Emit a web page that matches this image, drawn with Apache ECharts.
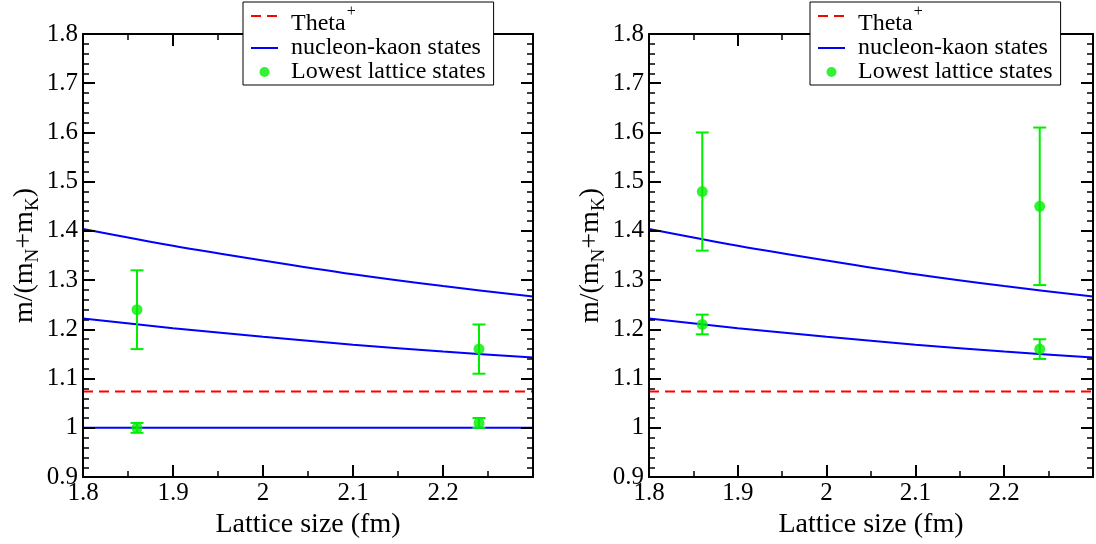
<!DOCTYPE html>
<html><head><meta charset="utf-8">
<script src="https://cdn.jsdelivr.net/npm/echarts@6/dist/echarts.min.js"></script>
<style>html,body{margin:0;padding:0;background:#fff}#c{width:1096px;height:544px}</style>
</head><body><div id="c"></div>
<script>
// ---- data ----
const nkX      = [1.8, 1.9, 2.0, 2.1, 2.2, 2.3];
const nkUpper  = [1.404, 1.370, 1.340, 1.312, 1.288, 1.267];
const nkLower  = [1.222, 1.2025, 1.185, 1.169, 1.155, 1.143];
const thrX     = [1.8, 2.3];
const nkThresh = [1.0, 1.0];
const thetaY   = [1.074, 1.074];
const latX     = [1.86, 2.24];
const leftLowY   = [1.0, 1.01];  const leftLowErr   = [0.01, 0.01];
const leftHighY  = [1.24, 1.16]; const leftHighErr  = [0.08, 0.05];
const rightLowY  = [1.21, 1.16]; const rightLowErr  = [0.02, 0.02];
const rightHighY = [1.48, 1.45]; const rightHighErr = [0.12, 0.16];
const xTitle = 'Lattice size (fm)';
const legendNames = ['Theta+', 'nucleon-kaon states', 'Lowest lattice states'];

const FONT = 'Liberation Serif';
const GREEN = '#00ee00', BLUE = '#0000ff', RED = '#ff0000';

function fmt(v){ return String(Math.round(v*10)/10); }
function xAx(grid, pos, labels){
  return {type:'value', gridIndex:grid, position:pos, min:1.8, max:2.3, interval:0.1, z:6,
    axisLine:{show:true, onZero:false, lineStyle:{color:'#000', width:2}},
    axisTick:{show:true, inside:true, length:12, lineStyle:{color:'#000', width:2}},
    minorTick:{show:true, splitNumber:2, length:6, lineStyle:{color:'#000', width:1.5}},
    splitLine:{show:false}, minorSplitLine:{show:false},
    axisLabel:{show:labels, margin:4, fontFamily:FONT, fontSize:25, color:'#000',
      formatter:v => v > 2.29 ? '' : fmt(v)},
    name: labels ? xTitle : '', nameLocation:'middle', nameGap:28,
    nameTextStyle:{fontFamily:FONT, fontSize:28, color:'#000'}};
}
function yAx(grid, pos, labels){
  return {type:'value', gridIndex:grid, position:pos, min:0.9, max:1.8, interval:0.1, z:6,
    axisLine:{show:true, onZero:false, lineStyle:{color:'#000', width:2}},
    axisTick:{show:true, inside:true, length:12, lineStyle:{color:'#000', width:2}},
    minorTick:{show:true, splitNumber:5, length:6, lineStyle:{color:'#000', width:1.5}},
    splitLine:{show:false}, minorSplitLine:{show:false},
    axisLabel:{show:labels, margin:5, fontFamily:FONT, fontSize:25, color:'#000', formatter:fmt},
    name: labels ? '{a|m/(m}{s|N}{a|+m}{s|K}{a|)}' : '', nameLocation:'middle', nameGap:43, nameRotate:90,
    nameTextStyle:{fontFamily:FONT, fontSize:28, color:'#000', rich:{
      a:{fontFamily:FONT, fontSize:28, lineHeight:28, verticalAlign:'top', color:'#000'},
      s:{fontFamily:FONT, fontSize:19, lineHeight:19, verticalAlign:'top', padding:[13,0,0,0], color:'#000'}}}};
}
function lineS(name, xi, xs, ys, color, dashed, smooth){
  return {type:'line', name, xAxisIndex:xi, yAxisIndex:xi, data:xs.map((x,i)=>[x, ys[i]]),
    symbol:'none', showSymbol:false, smooth: smooth ? 0.3 : false, z:2, silent:true,
    lineStyle:{color, width:2, type: dashed ? [10,6] : 'solid'}, itemStyle:{color}};
}
function errS(xi, ys, es){
  return {type:'custom', xAxisIndex:xi, yAxisIndex:xi, z:3, silent:true,
    data: latX.map((x,i)=>[x, ys[i]-es[i], ys[i]+es[i]]),
    encode:{x:0, y:[1,2]},
    renderItem:(p, api)=>{
      const lo = api.coord([api.value(0), api.value(1)]);
      const hi = api.coord([api.value(0), api.value(2)]);
      const hw = 6.5, st = {stroke:GREEN, lineWidth:2};
      return {type:'group', children:[
        {type:'line', shape:{x1:lo[0], y1:lo[1], x2:hi[0], y2:hi[1]}, style:st},
        {type:'line', shape:{x1:lo[0]-hw, y1:lo[1], x2:lo[0]+hw, y2:lo[1]}, style:st},
        {type:'line', shape:{x1:hi[0]-hw, y1:hi[1], x2:hi[0]+hw, y2:hi[1]}, style:st}]};
    }};
}
function ptsS(xi, ySets){
  const data = [];
  ySets.forEach(ys => latX.forEach((x,i)=>data.push([x, ys[i]])));
  return {type:'scatter', name:legendNames[2], xAxisIndex:xi, yAxisIndex:xi, data,
    symbol:'circle', symbolSize:11, z:4, silent:true, itemStyle:{color:GREEN}};
}
function legendAt(left){
  return {left, top:2, orient:'vertical', padding:[2,8,1,7], itemGap:0, itemWidth:27, itemHeight:10,
    backgroundColor:'#fff', borderColor:'#000', borderWidth:1, borderRadius:0, z:10, selectedMode:false,
    data:[{name:legendNames[0], itemStyle:{opacity:0}}, {name:legendNames[1], itemStyle:{opacity:0}},
          {name:legendNames[2], icon:'circle'}],
    formatter: n => n === legendNames[0] ? '{t|Theta}{s|+}' : '{n|' + n + '}',
    textStyle:{fontFamily:FONT, fontSize:24, color:'#000', rich:{
      t:{fontFamily:FONT, fontSize:24, lineHeight:24, verticalAlign:'top', padding:[8,0,0,8], color:'#000'},
      s:{fontFamily:FONT, fontSize:16, lineHeight:16, verticalAlign:'top', padding:[0,0,0,1], color:'#000'},
      n:{fontFamily:FONT, fontSize:24, lineHeight:24, padding:[0,0,0,8], color:'#000'}}}};
}

const option = {
  animation:false, backgroundColor:'#fff',
  grid:[{left:83, top:34, width:450, height:450}, {left:649, top:34, width:450, height:450}],
  xAxis:[xAx(0,'bottom',true), xAx(0,'top',false), xAx(1,'bottom',true), xAx(1,'top',false)],
  yAxis:[yAx(0,'left',true), yAx(0,'right',false), yAx(1,'left',true), yAx(1,'right',false)],
  legend:[legendAt(243), legendAt(810)],
  series:[
    lineS(legendNames[0], 0, thrX, thetaY, RED, true, false),
    lineS(legendNames[1], 0, thrX, nkThresh, BLUE, false, false),
    lineS(legendNames[1], 0, nkX, nkLower, BLUE, false, true),
    lineS(legendNames[1], 0, nkX, nkUpper, BLUE, false, true),
    errS(0, leftLowY, leftLowErr), errS(0, leftHighY, leftHighErr),
    ptsS(0, [leftLowY, leftHighY]),
    lineS(legendNames[0], 2, thrX, thetaY, RED, true, false),
    lineS(legendNames[1], 2, nkX, nkLower, BLUE, false, true),
    lineS(legendNames[1], 2, nkX, nkUpper, BLUE, false, true),
    errS(2, rightLowY, rightLowErr), errS(2, rightHighY, rightHighErr),
    ptsS(2, [rightLowY, rightHighY])
  ]
};
echarts.init(document.getElementById('c'), null, {renderer:'canvas'}).setOption(option);
</script></body></html>
